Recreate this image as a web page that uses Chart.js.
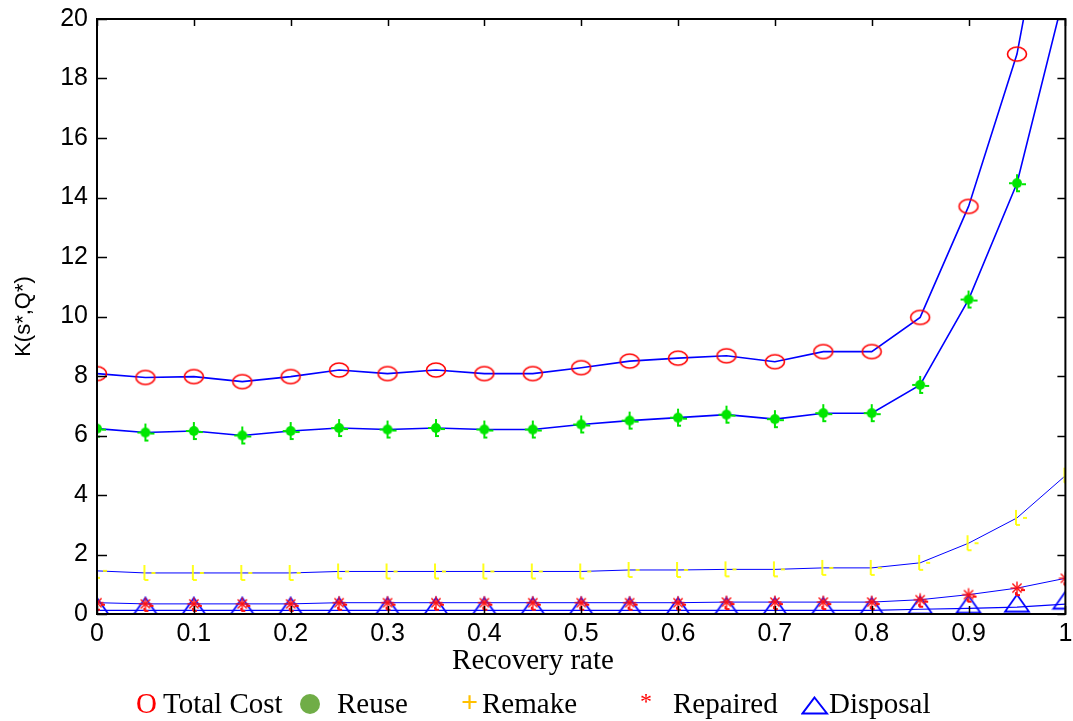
<!DOCTYPE html>
<html>
<head>
<meta charset="utf-8">
<script src="https://cdn.jsdelivr.net/npm/chart.js@4.4.1/dist/chart.umd.min.js"></script>
<style>
  html, body { margin: 0; padding: 0; background: #fff; }
  #wrap { position: relative; width: 1073px; height: 721px; }
  #wrap canvas { position: absolute; left: 0; top: 0; }
  .lbl { position: absolute; font-family: 'Liberation Serif', serif; font-size: 29px; line-height: 29px; color: #000; white-space: nowrap; }
  #xTitle { left: 383px; width: 300px; top: 645px; text-align: center; }
</style>
</head>
<body>
<div id="wrap">
  <canvas id="costChart" width="1073" height="721"></canvas>
  <div class="lbl" id="xTitle">Recovery rate</div>
  <div class="lbl" style="left:136px; top:689px; color:#ff0000;">O</div>
  <div class="lbl" style="left:163px; top:689px;">Total Cost</div>
  <svg style="position:absolute; left:299px; top:693px;" width="22" height="22"><circle cx="11" cy="11" r="10" fill="#70ad47"/></svg>
  <div class="lbl" style="left:337px; top:689px;">Reuse</div>
  <div class="lbl" style="left:461px; top:687px; color:#ffc000; font-size:30px; font-weight:bold;">+</div>
  <div class="lbl" style="left:482px; top:689px;">Remake</div>
  <div class="lbl" style="left:640px; top:687px; color:#ff0000; font-size:24px;">*</div>
  <div class="lbl" style="left:673px; top:689px;">Repaired</div>
  <svg style="position:absolute; left:801px; top:696px;" width="28" height="19"><polygon points="13.5,1.5 26,17.5 1.5,17.5" fill="none" stroke="#0000ff" stroke-width="2"/></svg>
  <div class="lbl" style="left:829px; top:689px;">Disposal</div>
</div>
<script>
'use strict';

// recovery rate on the x axis
const recovery = [0, 0.05, 0.1, 0.15, 0.2, 0.25, 0.3, 0.35, 0.4, 0.45, 0.5,
                  0.55, 0.6, 0.65, 0.7, 0.75, 0.8, 0.85, 0.9, 0.95, 1];

const totalCost = [8.08, 7.95, 7.98, 7.81, 7.98, 8.2, 8.08, 8.2, 8.08, 8.08, 8.28,
                   8.5, 8.6, 8.68, 8.48, 8.82, 8.82, 9.97, 13.7, 18.82, 27.5];
const reuse     = [6.23, 6.1, 6.15, 6.0, 6.15, 6.25, 6.2, 6.25, 6.2, 6.2, 6.37,
                   6.5, 6.6, 6.7, 6.55, 6.75, 6.75, 7.7, 10.57, 14.48, 21.0];
const remake    = [1.45, 1.38, 1.38, 1.38, 1.38, 1.43, 1.43, 1.43, 1.43, 1.43, 1.43,
                   1.48, 1.48, 1.5, 1.5, 1.55, 1.55, 1.72, 2.38, 3.23, 4.65];
const repaired  = [0.38, 0.34, 0.34, 0.34, 0.34, 0.38, 0.38, 0.38, 0.38, 0.38, 0.38,
                   0.38, 0.38, 0.4, 0.4, 0.4, 0.4, 0.48, 0.65, 0.87, 1.2];
const disposal  = [0.12, 0.12, 0.12, 0.12, 0.12, 0.12, 0.12, 0.12, 0.12, 0.12, 0.12,
                   0.12, 0.12, 0.12, 0.12, 0.12, 0.12, 0.16, 0.19, 0.23, 0.33];

const yTicks = [0, 2, 4, 6, 8, 10, 12, 14, 16, 18, 20];
const xTicks = [0, 0.1, 0.2, 0.3, 0.4, 0.5, 0.6, 0.7, 0.8, 0.9, 1];
const xTickLabels = ['0', '0.1', '0.2', '0.3', '0.4', '0.5', '0.6', '0.7', '0.8', '0.9', '1'];

// small canvases used as marker images
function marker(w, h, draw) {
  const c = document.createElement('canvas');
  c.width = w; c.height = h;
  const g = c.getContext('2d');
  draw(g);
  return c;
}
function seg(g, x1, y1, x2, y2) { g.beginPath(); g.moveTo(x1, y1); g.lineTo(x2, y2); g.stroke(); }

const circleMark = marker(24, 20, g => {
  g.strokeStyle = '#ff0000'; g.lineWidth = 1.6;
  g.beginPath(); g.ellipse(12, 10, 9.5, 7, 0, 0, Math.PI * 2); g.stroke();
});
const reuseMark = marker(26, 26, g => {
  g.fillStyle = '#00e600'; g.strokeStyle = '#00e600'; g.lineWidth = 2;
  g.beginPath(); g.arc(13, 13, 5, 0, Math.PI * 2); g.fill();
  seg(g, 13, 4, 13, 9);
  seg(g, 13, 17, 13, 21); seg(g, 12, 21, 16, 21);
  seg(g, 18, 14, 22, 14);
  seg(g, 5, 13, 8, 13);
});
const remakeMark = marker(26, 26, g => {
  g.strokeStyle = '#ffff00'; g.lineWidth = 1.8;
  seg(g, 12, 5, 12, 20); seg(g, 12, 20, 16, 20);
  seg(g, 19, 13, 23, 13);
});
const repairMark = marker(26, 26, g => {
  g.strokeStyle = '#ff1010'; g.lineWidth = 1.4;
  for (let k = 0; k < 4; k++) {
    const a = k * Math.PI / 4;
    seg(g, 13 - 6.5 * Math.cos(a), 13 - 6.5 * Math.sin(a), 13 + 6.5 * Math.cos(a), 13 + 6.5 * Math.sin(a));
  }
  g.lineWidth = 2;
  seg(g, 17, 15, 21, 15);
  seg(g, 12, 17, 12, 20); seg(g, 12, 20, 16, 20);
});
const triMark = marker(28, 28, g => {
  g.strokeStyle = '#0000ff'; g.lineWidth = 1.8;
  g.beginPath(); g.moveTo(14, 1.5); g.lineTo(26, 18.5); g.lineTo(2, 18.5); g.closePath(); g.stroke();
});

function pts(vals) { return recovery.map((r, i) => ({ x: r, y: vals[i] })); }

function series(label, vals, img, width) {
  return {
    label: label,
    data: pts(vals),
    borderColor: '#0000ff',
    borderWidth: width,
    tension: 0,
    pointStyle: img,
    pointRadius: 6,
    pointHoverRadius: 6
  };
}

// box around the plot and tick marks pointing inwards
const boxPlugin = {
  id: 'boxTicks',
  afterDatasetsDraw(chart) {
    const { ctx, chartArea: a, scales: { x, y } } = chart;
    ctx.save();
    ctx.strokeStyle = '#000';
    ctx.lineWidth = 1.5;
    x.ticks.forEach(t => {
      const px = Math.round(x.getPixelForValue(t.value)) + 0.5;
      seg(ctx, px, a.bottom, px, a.bottom - 8);
      seg(ctx, px, a.top, px, a.top + 7);
    });
    y.ticks.forEach(t => {
      const py = Math.round(y.getPixelForValue(t.value)) + 0.5;
      seg(ctx, a.left, py, a.left + 10, py);
      seg(ctx, a.right, py, a.right - 8, py);
    });
    ctx.lineWidth = 2;
    ctx.strokeRect(a.left, a.top, a.right - a.left, a.bottom - a.top);
    ctx.restore();
  }
};

Chart.defaults.font.family = "'Liberation Sans', Arial, sans-serif";
Chart.defaults.color = '#000';

new Chart(document.getElementById('costChart').getContext('2d'), {
  type: 'line',
  data: {
    datasets: [
      series('Total Cost', totalCost, circleMark, 1.6),
      series('Reuse', reuse, reuseMark, 1.6),
      series('Remake', remake, remakeMark, 1),
      series('Repaired', repaired, repairMark, 1),
      series('Disposal', disposal, triMark, 1.2)
    ]
  },
  options: {
    responsive: false,
    animation: false,
    layout: { padding: { left: 0, top: 19, right: 6, bottom: 47 } },
    plugins: { legend: { display: false }, tooltip: { enabled: false } },
    scales: {
      x: {
        type: 'linear',
        min: 0,
        max: 1,
        grid: { display: false, drawTicks: false },
        border: { display: false },
        afterBuildTicks(scale) { scale.ticks = xTicks.map(v => ({ value: v })); },
        ticks: {
          maxRotation: 0, autoSkip: false, padding: 5, font: { size: 25 },
          callback: (v, i) => xTickLabels[i]
        },
        afterFit(scale) { scale.height = 60; scale.paddingLeft = 0; scale.paddingRight = 0; }
      },
      y: {
        min: 0,
        max: 20,
        grid: { display: false, drawTicks: false },
        border: { display: false },
        afterBuildTicks(scale) { scale.ticks = yTicks.map(v => ({ value: v })); },
        ticks: { padding: 9, font: { size: 25 } },
        title: { display: true, text: 'K(s*,Q*)', font: { size: 22 }, padding: { top: 11, bottom: 0 } },
        afterFit(scale) { scale.width = 97; scale.paddingTop = 0; scale.paddingBottom = 0; }
      }
    }
  },
  plugins: [boxPlugin]
});
</script>
</body>
</html>
